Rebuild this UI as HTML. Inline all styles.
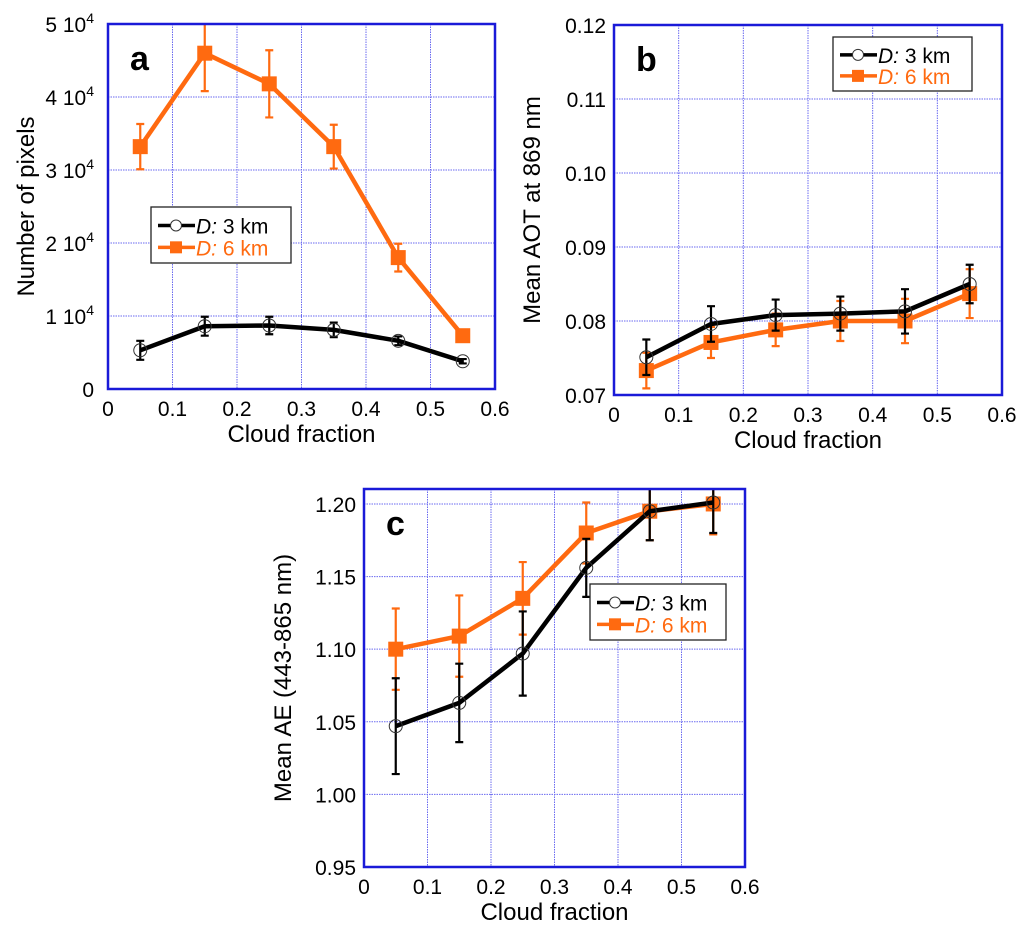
<!DOCTYPE html>
<html><head><meta charset="utf-8"><style>
html,body{margin:0;padding:0;background:#fff;}
svg{display:block;font-family:"Liberation Sans",Arial,sans-serif;}
</style></head><body>
<svg id="fig" width="1024" height="928" viewBox="0 0 1024 928" xmlns="http://www.w3.org/2000/svg"></svg>
<script>
const xCats=[0.05,0.15,0.25,0.35,0.45,0.55];
const xTicks=["0","0.1","0.2","0.3","0.4","0.5","0.6"];
// panel a (units of 1e4)
const a3=[0.53,0.86,0.87,0.81,0.66,0.38];
const a3e=[0.13,0.13,0.12,0.10,0.06,0.03];
const a6=[3.32,4.60,4.18,3.32,1.80,0.73];
const a6e=[0.31,0.52,0.46,0.30,0.19,0.05];
const aTicks=["0","1","2","3","4","5"];
// panel b
const b3=[0.0751,0.0796,0.0808,0.0810,0.0813,0.0850];
const b3e=[0.0024,0.0024,0.0021,0.0023,0.0030,0.0026];
const b6=[0.0733,0.0771,0.0788,0.0800,0.0800,0.0837];
const b6e=[0.0024,0.0021,0.0022,0.0027,0.0030,0.0033];
const bTicks=["0.07","0.08","0.09","0.10","0.11","0.12"];
// panel c
const c3=[1.047,1.063,1.097,1.156,1.195,1.201];
const c3e=[0.033,0.027,0.029,0.020,0.020,0.021];
const c6=[1.100,1.109,1.135,1.180,1.195,1.200];
const c6e=[0.028,0.028,0.025,0.021,0.020,0.021];
const cTicks=["0.95","1.00","1.05","1.10","1.15","1.20"];

const NS="http://www.w3.org/2000/svg";
const svg=document.getElementById('fig');
function mk(tag,attrs,parent,txt){const e=document.createElementNS(NS,tag);for(const k in attrs)e.setAttribute(k,attrs[k]);if(txt!==undefined)e.textContent=txt;(parent||svg).appendChild(e);return e;}
const ORANGE="#ff6a10", BLUE="#1a1ad8";

function panel(o){
  const g=mk('g',{});
  
  
  const X=v=>o.x0+(v-0)/(0.6)*(o.x1-o.x0);
  const Y=v=>o.y1-(v-o.ymin)/(o.ymax-o.ymin)*(o.y1-o.y0);
  const clip=mk('clipPath',{id:'clip'+o.id},g);
  mk('rect',{x:o.x0,y:o.y0,width:o.x1-o.x0,height:o.y1-o.y0},clip);
  for(let i=1;i<6;i++){const gl=mk('line',{x1:X(i*0.1),x2:X(i*0.1),y1:o.y0,y2:o.y1,stroke:"#6a6af0","stroke-width":1,"stroke-dasharray":"1.5,1"},g);}
  o.yTickVals.forEach(v=>{if(v>o.ymin&&v<o.ymax+1e-9&&Y(v)>o.y0+1){const gl=mk('line',{x1:o.x0,x2:o.x1,y1:Y(v),y2:Y(v),stroke:"#6a6af0","stroke-width":1,"stroke-dasharray":"1.5,1"},g);}});
  xTicks.forEach((t,i)=>{const e=mk('text',{x:X(i*0.1),y:o.y1+27,"font-size":21,"text-anchor":"middle"},g,t);});
  o.yTickVals.forEach((v,i)=>{
    let e;
    if(o.sci){
      e=mk('text',{x:o.x0-14,y:Y(v)+8,"font-size":21,"text-anchor":"end"},g);
      if(o.yLabels[i]==="0"){e.textContent="0";}
      else{mk('tspan',{},e,o.yLabels[i]+" 10");mk('tspan',{dy:-9,"font-size":14},e,"4");}
    } else e=mk('text',{x:o.x0-8,y:Y(v)+8,"font-size":21,"text-anchor":"end"},g,o.yLabels[i]);
    
  });
  const xt=mk('text',{x:(o.x0+o.x1)/2,y:o.y1+53,"font-size":24,"text-anchor":"middle"},g,"Cloud fraction");
  
  const yt=mk('text',{x:0,y:0,"font-size":24,"text-anchor":"middle",transform:`translate(${o.ytx},${(o.y0+o.y1)/2}) rotate(-90)`},g,o.ytitle);
  
  const pl=mk('text',{x:o.x0+22,y:o.y0+46,"font-size":34,"font-weight":"bold"},g,o.id);
  
  const dg=mk('g',{"clip-path":`url(#clip${o.id})`},g);
  function series(vals,errs,color,square,name){
    const sg=mk('g',{},dg);
    
    
    vals.forEach((v,i)=>{
      const x=X(xCats[i]);
      const eb=mk('path',{d:`M${x},${Y(v-errs[i])}V${Y(v+errs[i])}M${x-4},${Y(v-errs[i])}h8M${x-4},${Y(v+errs[i])}h8`,stroke:color,"stroke-width":2.2,fill:"none"},sg);
      
    });
    const ln=mk('polyline',{points:vals.map((v,i)=>X(xCats[i])+","+Y(v)).join(" "),stroke:color,"stroke-width":4.5,fill:"none","stroke-linejoin":"round"},sg);
    
    vals.forEach((v,i)=>{
      const x=X(xCats[i]),y=Y(v);let m;
      if(square)m=mk('rect',{x:x-7.5,y:y-7.5,width:15,height:15,fill:color},sg);
      else m=mk('circle',{cx:x,cy:y,r:6.5,fill:"none",stroke:"#333","stroke-width":1},sg);
      
    });
  }
  series(o.s6,o.e6,ORANGE,true,'series-6km');
  series(o.s3,o.e3,"#000",false,'series-3km');
  const fr=mk('rect',{x:o.x0,y:o.y0,width:o.x1-o.x0,height:o.y1-o.y0,fill:"none",stroke:BLUE,"stroke-width":2.5},g);
  
  const L=o.leg;
  const lg=mk('g',{},g);
  
  mk('rect',{x:L[0],y:L[1],width:L[2],height:L[3],fill:"#fff",stroke:"#222","stroke-width":1.3},lg);
  const r1=L[1]+L[3]*0.33, r2=L[1]+L[3]*0.72;
  const e1=mk('g',{},lg);
  mk('line',{x1:L[0]+7,x2:L[0]+44,y1:r1,y2:r1,stroke:"#000","stroke-width":3.5},e1);
  mk('circle',{cx:L[0]+25,cy:r1,r:5.5,fill:"#fff",stroke:"#333","stroke-width":1},e1);
  const t1=mk('text',{x:L[0]+45,y:r1+8,"font-size":21},e1);mk('tspan',{"font-style":"italic"},t1,"D:");mk('tspan',{},t1," 3 km");
  const e2=mk('g',{},lg);
  mk('line',{x1:L[0]+7,x2:L[0]+44,y1:r2,y2:r2,stroke:ORANGE,"stroke-width":3.5},e2);
  mk('rect',{x:L[0]+19,y:r2-6,width:12,height:12,fill:ORANGE},e2);
  const t2=mk('text',{x:L[0]+45,y:r2+8,"font-size":21,fill:ORANGE},e2);mk('tspan',{"font-style":"italic"},t2,"D:");mk('tspan',{},t2," 6 km");
}
panel({id:'a',x0:108,x1:495,y0:24,y1:389,ymin:0,ymax:5,yTickVals:[0,1,2,3,4,5],yLabels:aTicks,sci:true,ytitle:"Number of pixels",ytx:34,
  s3:a3,e3:a3e,s6:a6,e6:a6e,leg:[151,207,140,56]});
panel({id:'b',x0:614,x1:1002,y0:25,y1:395,ymin:0.07,ymax:0.12,yTickVals:[0.07,0.08,0.09,0.10,0.11,0.12],yLabels:bTicks,sci:false,ytitle:"Mean AOT at 869 nm",ytx:540,
  s3:b3,e3:b3e,s6:b6,e6:b6e,leg:[833,37,139,54]});
panel({id:'c',x0:364,x1:745,y0:489,y1:867,ymin:0.95,ymax:1.2103,yTickVals:[0.95,1.00,1.05,1.10,1.15,1.20],yLabels:cTicks,sci:false,ytitle:"Mean AE (443-865 nm)",ytx:291,
  s3:c3,e3:c3e,s6:c6,e6:c6e,leg:[590,584,136,56]});
</script>
</body></html>
